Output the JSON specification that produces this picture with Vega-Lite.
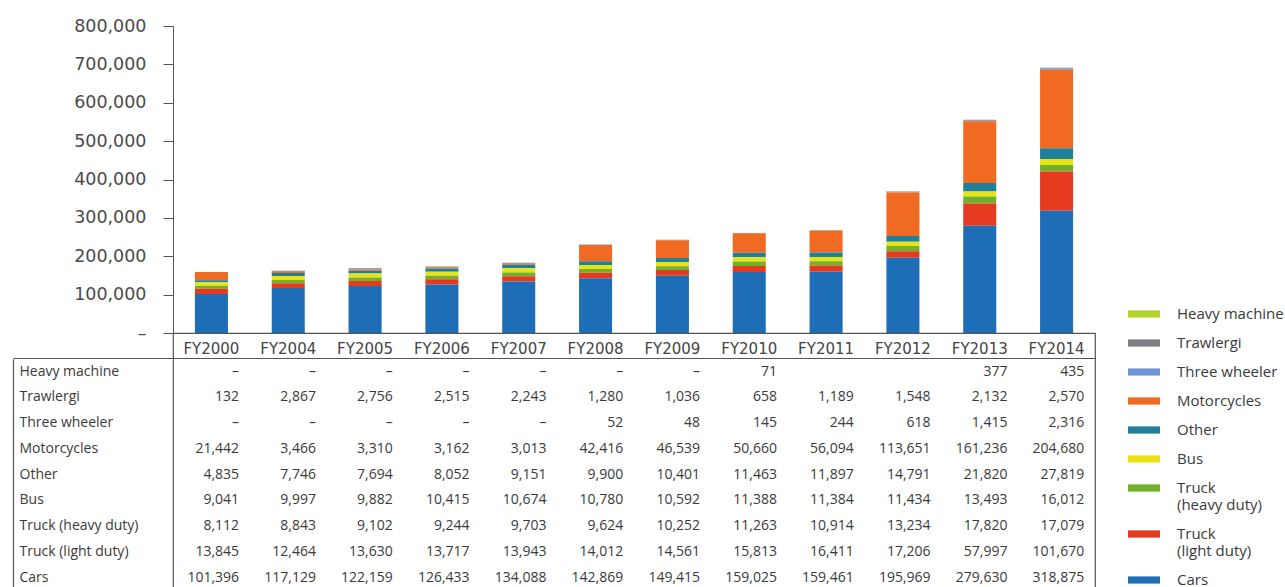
{
  "$schema": "https://vega.github.io/schema/vega-lite/v6.json",
  "padding": {"left": 11, "top": 17, "right": 5, "bottom": 0},
  "background": "white",
  "datasets": {
    "vehicles": [
      {"year": "FY2000", "Heavy machine": 0, "Trawlergi": 132, "Three wheeler": 0, "Motorcycles": 21442, "Other": 4835, "Bus": 9041, "Truck (heavy duty)": 8112, "Truck (light duty)": 13845, "Cars": 101396},
      {"year": "FY2004", "Heavy machine": 0, "Trawlergi": 2867, "Three wheeler": 0, "Motorcycles": 3466, "Other": 7746, "Bus": 9997, "Truck (heavy duty)": 8843, "Truck (light duty)": 12464, "Cars": 117129},
      {"year": "FY2005", "Heavy machine": 0, "Trawlergi": 2756, "Three wheeler": 0, "Motorcycles": 3310, "Other": 7694, "Bus": 9882, "Truck (heavy duty)": 9102, "Truck (light duty)": 13630, "Cars": 122159},
      {"year": "FY2006", "Heavy machine": 0, "Trawlergi": 2515, "Three wheeler": 0, "Motorcycles": 3162, "Other": 8052, "Bus": 10415, "Truck (heavy duty)": 9244, "Truck (light duty)": 13717, "Cars": 126433},
      {"year": "FY2007", "Heavy machine": 0, "Trawlergi": 2243, "Three wheeler": 0, "Motorcycles": 3013, "Other": 9151, "Bus": 10674, "Truck (heavy duty)": 9703, "Truck (light duty)": 13943, "Cars": 134088},
      {"year": "FY2008", "Heavy machine": 0, "Trawlergi": 1280, "Three wheeler": 52, "Motorcycles": 42416, "Other": 9900, "Bus": 10780, "Truck (heavy duty)": 9624, "Truck (light duty)": 14012, "Cars": 142869},
      {"year": "FY2009", "Heavy machine": 0, "Trawlergi": 1036, "Three wheeler": 48, "Motorcycles": 46539, "Other": 10401, "Bus": 10592, "Truck (heavy duty)": 10252, "Truck (light duty)": 14561, "Cars": 149415},
      {"year": "FY2010", "Heavy machine": 71, "Trawlergi": 658, "Three wheeler": 145, "Motorcycles": 50660, "Other": 11463, "Bus": 11388, "Truck (heavy duty)": 11263, "Truck (light duty)": 15813, "Cars": 159025},
      {"year": "FY2011", "Trawlergi": 1189, "Three wheeler": 244, "Motorcycles": 56094, "Other": 11897, "Bus": 11384, "Truck (heavy duty)": 10914, "Truck (light duty)": 16411, "Cars": 159461},
      {"year": "FY2012", "Trawlergi": 1548, "Three wheeler": 618, "Motorcycles": 113651, "Other": 14791, "Bus": 11434, "Truck (heavy duty)": 13234, "Truck (light duty)": 17206, "Cars": 195969},
      {"year": "FY2013", "Heavy machine": 377, "Trawlergi": 2132, "Three wheeler": 1415, "Motorcycles": 161236, "Other": 21820, "Bus": 13493, "Truck (heavy duty)": 17820, "Truck (light duty)": 57997, "Cars": 279630},
      {"year": "FY2014", "Heavy machine": 435, "Trawlergi": 2570, "Three wheeler": 2316, "Motorcycles": 204680, "Other": 27819, "Bus": 16012, "Truck (heavy duty)": 17079, "Truck (light duty)": 101670, "Cars": 318875}
    ]
  },
  "data": {"name": "vehicles"},
  "transform": [
    {"fold": ["Heavy machine", "Trawlergi", "Three wheeler", "Motorcycles", "Other", "Bus", "Truck (heavy duty)", "Truck (light duty)", "Cars"], "as": ["type", "value"]},
    {"filter": "isValid(datum.value)"},
    {"calculate": "indexof(['Cars', 'Truck (light duty)', 'Truck (heavy duty)', 'Bus', 'Other', 'Motorcycles', 'Three wheeler', 'Trawlergi', 'Heavy machine'], datum.type)", "as": "stackRank"}
  ],
  "spacing": 0,
  "bounds": "flush",
  "vconcat": [
    {
      "width": 922,
      "height": 307,
      "view": {"stroke": null},
      "mark": {"type": "bar"},
      "encoding": {
        "x": {
          "field": "year", "type": "nominal",
          "scale": {"type": "band", "paddingInner": 0.57, "paddingOuter": 0.285},
          "axis": {"title": null, "labelAngle": 0, "ticks": false, "labelPadding": 8, "labelFont": "DejaVu Sans", "labelFontSize": 15, "labelColor": "#444444", "domainColor": "#555555", "domainWidth": 1.2}
        },
        "y": {
          "field": "value", "type": "quantitative", "stack": "zero",
          "scale": {"domain": [0, 800000], "nice": false},
          "axis": {"title": null, "grid": false, "values": [0, 100000, 200000, 300000, 400000, 500000, 600000, 700000, 800000], "labelExpr": "datum.value == 0 ? '–' : format(datum.value, ',')", "tickSize": 10, "labelPadding": 17, "labelFont": "DejaVu Sans", "labelFontSize": 17.5, "labelColor": "#4a4a4a", "domainColor": "#555555", "tickColor": "#555555"}
        },
        "order": {"field": "stackRank", "type": "quantitative", "sort": "ascending"},
        "color": {
          "field": "type", "type": "nominal",
          "scale": {
            "domain": ["Cars", "Truck (light duty)", "Truck (heavy duty)", "Bus", "Other", "Motorcycles", "Three wheeler", "Trawlergi", "Heavy machine"],
            "range": ["#1d6eb7", "#e53a1f", "#72b12a", "#e8e314", "#20809a", "#f06a22", "#6f94d8", "#808085", "#b0d42c"]
          },
          "legend": {
            "orient": "none", "legendX": 963, "legendY": 280, "title": null,
            "values": ["Heavy machine", "Trawlergi", "Three wheeler", "Motorcycles", "Other", "Bus", "Truck (heavy duty)", "Truck (light duty)", "Cars"],
            "symbolType": "M-2,-0.45H2V0.45H-2Z", "symbolSize": 256, "symbolStrokeWidth": 0, "symbolOpacity": 1,
            "labelFont": "Open Sans", "labelFontSize": 15, "labelColor": "#3a3a3a", "labelLimit": 300, "labelOffset": 25,
            "rowPadding": 13,
            "labelExpr": "datum.label == 'Truck (heavy duty)' ? ['Truck', '(heavy duty)'] : datum.label == 'Truck (light duty)' ? ['Truck', '(light duty)'] : datum.label"
          }
        }
      }
    },
    {
      "width": 922,
      "height": 257.5,
      "view": {"stroke": "#555555", "strokeWidth": 1.2, "fill": null},
      "mark": {"type": "text", "align": "right", "baseline": "middle", "font": "Open Sans", "fontSize": 14, "color": "#3a3a3a"},
      "encoding": {
        "x": {
          "field": "year", "type": "nominal", "bandPosition": 0.86,
          "scale": {"type": "band", "paddingInner": 0, "paddingOuter": 0},
          "axis": null
        },
        "y": {
          "field": "type", "type": "nominal",
          "sort": ["Heavy machine", "Trawlergi", "Three wheeler", "Motorcycles", "Other", "Bus", "Truck (heavy duty)", "Truck (light duty)", "Cars"],
          "scale": {"type": "band", "paddingInner": 0, "paddingOuter": 0.5, "align": 1},
          "axis": {
            "title": null, "orient": "left", "offset": 160, "bandPosition": 0,
            "tickSize": -1082, "tickColor": "#555555", "tickWidth": 1.2,
            "tickOpacity": {"condition": {"test": "datum.value === 'Heavy machine'", "value": 1}, "value": 0},
            "labelAlign": "left", "labelPadding": 1076, "labelOffset": 0, "labelBaseline": "middle",
            "labelFont": "Open Sans", "labelFontSize": 14, "labelColor": "#3a3a3a", "labelLimit": 300,
            "domainColor": "#555555", "domainWidth": 1.2, "domainDash": [0, 25.75, 1000]
          }
        },
        "text": {"condition": {"test": "datum.value === 0", "value": "–"}, "field": "value", "type": "quantitative", "format": ","}
      }
    }
  ]
}
